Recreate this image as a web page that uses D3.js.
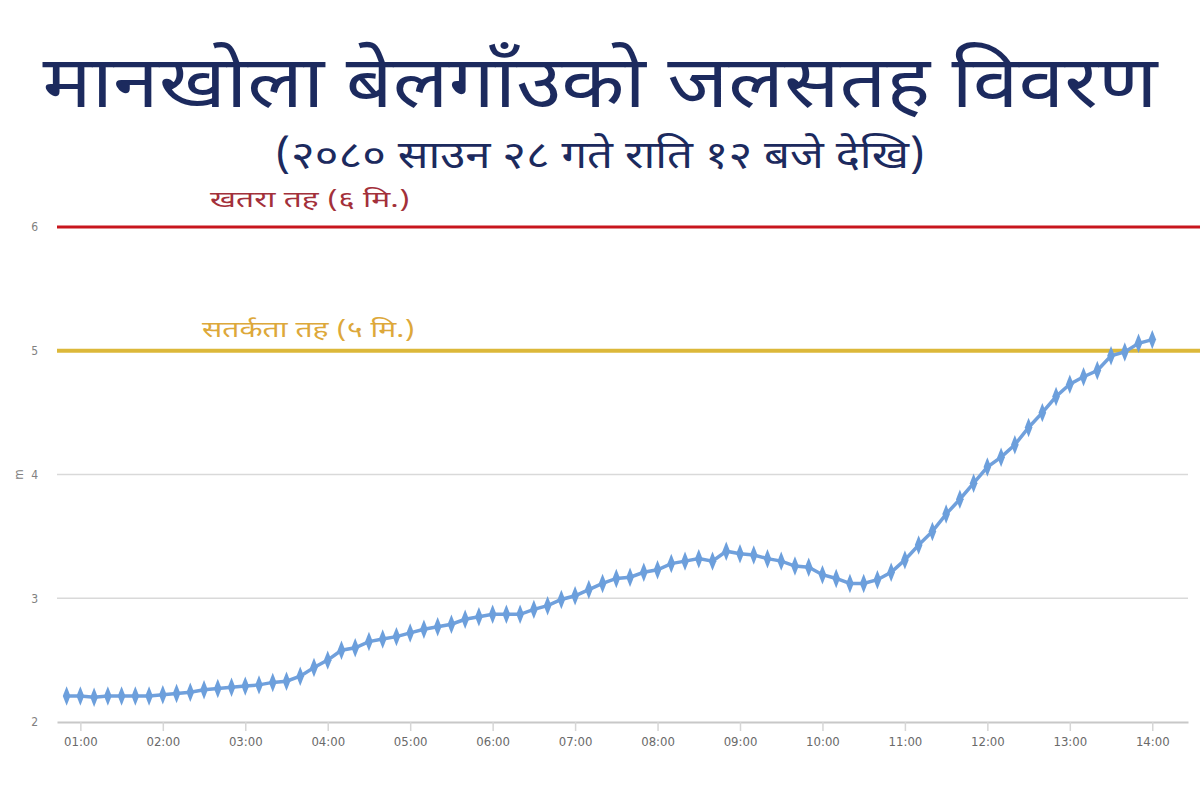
<!DOCTYPE html>
<html>
<head>
<meta charset="utf-8">
<script src="https://cdn.jsdelivr.net/npm/d3@7"></script>
<style>
  body { margin: 0; background: #fff; }
  svg { display: block; }
</style>
</head>
<body>
<div id="chart"></div>
<script>
// water level readings, every 10 minutes
var times = [
  "00:50","01:00","01:10","01:20","01:30","01:40","01:50",
  "02:00","02:10","02:20","02:30","02:40","02:50",
  "03:00","03:10","03:20","03:30","03:40","03:50",
  "04:00","04:10","04:20","04:30","04:40","04:50",
  "05:00","05:10","05:20","05:30","05:40","05:50",
  "06:00","06:10","06:20","06:30","06:40","06:50",
  "07:00","07:10","07:20","07:30","07:40","07:50",
  "08:00","08:10","08:20","08:30","08:40","08:50",
  "09:00","09:10","09:20","09:30","09:40","09:50",
  "10:00","10:10","10:20","10:30","10:40","10:50",
  "11:00","11:10","11:20","11:30","11:40","11:50",
  "12:00","12:10","12:20","12:30","12:40","12:50",
  "13:00","13:10","13:20","13:30","13:40","13:50",
  "14:00"
];
var levels = [
  2.21, 2.21, 2.20, 2.21, 2.21, 2.21, 2.21,
  2.22, 2.23, 2.24, 2.26, 2.27, 2.28,
  2.29, 2.30, 2.32, 2.33, 2.37, 2.44,
  2.50, 2.58, 2.60, 2.65, 2.67, 2.69,
  2.72, 2.75, 2.77, 2.79, 2.83, 2.85,
  2.87, 2.87, 2.87, 2.91, 2.94, 2.99,
  3.02, 3.07, 3.12, 3.16, 3.17, 3.21,
  3.23, 3.28, 3.30, 3.32, 3.30, 3.38,
  3.36, 3.35, 3.32, 3.30, 3.26, 3.25,
  3.19, 3.16, 3.12, 3.12, 3.15, 3.21,
  3.31, 3.43, 3.54, 3.68, 3.80, 3.93,
  4.06, 4.14, 4.24, 4.38, 4.50, 4.63,
  4.73, 4.79, 4.84, 4.96, 4.99, 5.06,
  5.09
];
var hourTicks = ["01:00","02:00","03:00","04:00","05:00","06:00","07:00",
                 "08:00","09:00","10:00","11:00","12:00","13:00","14:00"];
var yTicks = [2, 3, 4, 5, 6];
var dangerLevel = 6;
var warningLevel = 5;

var titleText = "मानखोला बेलगाँउको जलसतह विवरण";
var subtitleText = "(२०८० साउन २८ गते राति १२ बजे देखि)";
var dangerLabel = "खतरा तह (६ मि.)";
var warningLabel = "सतर्कता तह (५ मि.)";

var svgWidth = 1200;
var svgHeight = 800;

var margin = { top: 227, right: 12, bottom: 78, left: 57 };
var width = svgWidth - margin.left - margin.right;
var height = svgHeight - margin.top - margin.bottom;

var devFont = "'Noto Sans Devanagari', 'Noto Sans', sans-serif";
var tickFont = "'DejaVu Sans Condensed', 'Liberation Sans Narrow', sans-serif";

function toMinutes(t) {
  var p = t.split(":");
  return +p[0] * 60 + +p[1];
}

var svg = d3.select("#chart")
  .append("svg")
  .attr("width", svgWidth)
  .attr("height", svgHeight);

// titles
svg.append("text")
  .attr("x", 600)
  .attr("y", 107)
  .attr("text-anchor", "middle")
  .attr("font-family", devFont)
  .attr("font-size", 72)
  .attr("font-weight", "normal")
  .attr("fill", "#1c2a5e")
  .attr("textLength", 1115)
  .attr("lengthAdjust", "spacingAndGlyphs")
  .text(titleText);

svg.append("text")
  .attr("x", 600)
  .attr("y", 168)
  .attr("text-anchor", "middle")
  .attr("font-family", devFont)
  .attr("font-size", 38)
  .attr("font-weight", "normal")
  .attr("fill", "#1c2a5e")
  .attr("textLength", 650)
  .attr("lengthAdjust", "spacingAndGlyphs")
  .text(subtitleText);

var chartGroup = svg.append("g")
  .attr("transform", `translate(${margin.left}, ${margin.top})`);

var xScale = d3.scaleLinear()
  .domain([43, 866])
  .range([0, width]);

var yScale = d3.scaleLinear()
  .domain([2, 6])
  .range([height, 0]);

// gridlines (3 and 4), axis line at 2
chartGroup.selectAll(".grid")
  .data([3, 4])
  .enter()
  .append("line")
  .attr("x1", 0)
  .attr("x2", width)
  .attr("y1", d => yScale(d))
  .attr("y2", d => yScale(d))
  .attr("stroke", "#d9d9d9")
  .attr("stroke-width", 1.5);

var bottomAxis = d3.axisBottom(xScale)
  .tickValues(hourTicks.map(toMinutes))
  .tickFormat((d, i) => hourTicks[i])
  .tickSizeInner(9)
  .tickSizeOuter(0)
  .tickPadding(6);

var xAxis = chartGroup.append("g")
  .attr("transform", `translate(0, ${height})`)
  .call(bottomAxis);

xAxis.select(".domain")
  .attr("stroke", "#c8c8c8")
  .attr("stroke-width", 2);
xAxis.selectAll(".tick line")
  .attr("stroke", "#d6d6d6")
  .attr("stroke-width", 1.5);
xAxis.selectAll(".tick text")
  .attr("fill", "#6a6a6a")
  .attr("font-family", tickFont)
  .attr("font-size", 13);

var leftAxis = d3.axisLeft(yScale)
  .tickValues(yTicks)
  .tickFormat(d3.format("d"))
  .tickSize(0)
  .tickPadding(19);

var yAxis = chartGroup.append("g")
  .call(leftAxis);
yAxis.select(".domain").remove();
yAxis.selectAll(".tick text")
  .attr("fill", "#808080")
  .attr("font-family", tickFont)
  .attr("font-size", 12);

// y axis title
chartGroup.append("text")
  .attr("transform", `translate(${-34}, ${yScale(4)}) rotate(-90)`)
  .attr("text-anchor", "middle")
  .attr("font-family", tickFont)
  .attr("font-size", 12)
  .attr("fill", "#808080")
  .text("m");

// danger and warning lines run to the page edge
chartGroup.append("line")
  .attr("x1", 0)
  .attr("x2", width + margin.right)
  .attr("y1", yScale(dangerLevel))
  .attr("y2", yScale(dangerLevel))
  .attr("stroke", "#c8161d")
  .attr("stroke-width", 3);

chartGroup.append("line")
  .attr("x1", 0)
  .attr("x2", width + margin.right)
  .attr("y1", yScale(warningLevel))
  .attr("y2", yScale(warningLevel))
  .attr("stroke", "#dcb83a")
  .attr("stroke-width", 4);

chartGroup.append("text")
  .attr("x", 153)
  .attr("y", yScale(dangerLevel) - 20)
  .attr("font-family", devFont)
  .attr("font-size", 22)
  .attr("fill", "#a3303a")
  .attr("textLength", 200)
  .attr("lengthAdjust", "spacingAndGlyphs")
  .text(dangerLabel);

chartGroup.append("text")
  .attr("x", 145)
  .attr("y", yScale(warningLevel) - 14)
  .attr("font-family", devFont)
  .attr("font-size", 22)
  .attr("fill", "#dda83a")
  .attr("textLength", 213)
  .attr("lengthAdjust", "spacingAndGlyphs")
  .text(warningLabel);

// level line
var line = d3.line()
  .x((d, i) => xScale(toMinutes(times[i])))
  .y(d => yScale(d));

chartGroup.append("path")
  .datum(levels)
  .attr("fill", "none")
  .attr("stroke", "#70a0dc")
  .attr("stroke-width", 3.5)
  .attr("d", line);

var diamond = d3.symbol().type(d3.symbolDiamond).size(70);

chartGroup.selectAll(".marker")
  .data(levels)
  .enter()
  .append("path")
  .attr("class", "marker")
  .attr("d", diamond)
  .attr("transform", (d, i) =>
    `translate(${xScale(toMinutes(times[i]))}, ${yScale(d)}) scale(0.85, 1.25)`)
  .attr("fill", "#6c9fdc");
</script>
</body>
</html>
